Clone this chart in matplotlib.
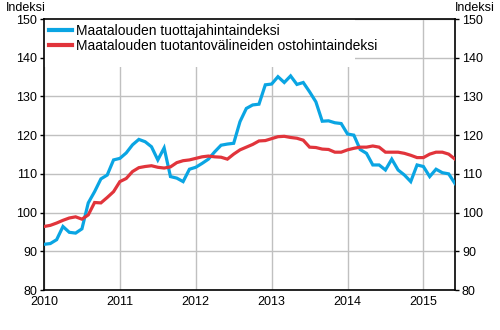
import numpy as np
import matplotlib
matplotlib.use("Agg")
import matplotlib.pyplot as plt
from matplotlib.patches import Rectangle

plt.rcParams["font.family"] = ["Liberation Sans", "DejaVu Sans"]

# ── Data (monthly, Jan 2010 – Jun 2015) ────────────────────────────
start_year = 2010
producer_index = [
    91.8, 92.0, 93.0, 96.4, 94.9, 94.7, 95.8, 102.5, 105.4, 108.7, 109.7, 113.6,
    114.0, 115.4, 117.5, 118.9, 118.3, 117.0, 113.6, 116.7, 109.3, 108.9, 108.0, 111.2,
    111.7, 112.7, 113.8, 115.7, 117.4, 117.7, 117.9, 123.5, 126.9, 127.8, 128.0, 133.0,
    133.2, 135.1, 133.6, 135.3, 133.1, 133.6, 131.2, 128.6, 123.6, 123.7, 123.2, 123.0,
    120.3, 120.0, 116.3, 115.3, 112.3, 112.3, 111.0, 113.8, 111.0, 109.7, 108.0, 112.3,
    111.9, 109.3, 111.2, 110.3, 110.0, 107.5,
]
input_index = [
    96.4, 96.7, 97.3, 98.0, 98.6, 98.9, 98.3, 99.4, 102.6, 102.5, 103.9, 105.4,
    108.0, 108.8, 110.6, 111.6, 111.9, 112.1, 111.7, 111.5, 111.8, 112.9, 113.4, 113.6,
    114.0, 114.4, 114.6, 114.4, 114.3, 113.8, 115.1, 116.2, 116.9, 117.6, 118.5, 118.6,
    119.1, 119.6, 119.7, 119.4, 119.2, 118.7, 116.9, 116.8, 116.4, 116.3, 115.6, 115.6,
    116.2, 116.6, 116.9, 116.9, 117.2, 116.9, 115.6, 115.6, 115.6, 115.3, 114.8, 114.2,
    114.2, 115.1, 115.6, 115.6, 115.1, 113.8,
]
series_labels = [
    "Maatalouden tuottajahintaindeksi",
    "Maatalouden tuotantovälineiden ostohintaindeksi",
]
year_ticks = [2010, 2011, 2012, 2013, 2014, 2015]
y_ticks = [80, 90, 100, 110, 120, 130, 140, 150]

BLUE = "#0AA5E3"
RED = "#E1343B"
GRID = "#C0C0C0"

months = start_year + np.arange(len(producer_index)) / 12.0

fig = plt.figure(figsize=(5.0, 3.3), dpi=100)
ax = fig.add_axes([0.088, 0.1212, 0.822, 0.8212])

ax.plot(months, producer_index, color=BLUE, lw=2.3, label=series_labels[0],
        solid_joinstyle="miter", zorder=3)
ax.plot(months, input_index, color=RED, lw=2.3, label=series_labels[1],
        solid_joinstyle="miter", zorder=3)

ax.set_xlim(months[0], months[-1])
ax.set_ylim(80, 150)
ax.set_xticks(year_ticks)
ax.set_xticklabels([str(y) for y in year_ticks])
ax.set_yticks(y_ticks)

ax.grid(True, color=GRID, lw=1.0)
ax.set_axisbelow(True)

# white block behind the legend hides the grid there
ax.add_patch(Rectangle((0, 0.823), 0.757, 0.177, transform=ax.transAxes,
                       facecolor="white", edgecolor="none", zorder=1))

for side in ["top", "left", "right", "bottom"]:
    ax.spines[side].set_linewidth(1.2)
    ax.spines[side].set_color("black")

ax.tick_params(axis="both", labelsize=9, colors="black", width=1, length=3)
ax.tick_params(axis="x", length=0, pad=4.5)
ax.tick_params(axis="y", right=True, labelright=True, pad=2)

leg = ax.legend(loc="upper left", fontsize=10, frameon=False,
                handlelength=1.7, handletextpad=0.25, borderpad=0.3,
                labelspacing=0.08, borderaxespad=0.05)
for line in leg.get_lines():
    line.set_linewidth(3)
leg.set_zorder(4)

fig.text(0.012, 0.975, "Indeksi", fontsize=9, ha="left", va="center")
fig.text(0.99, 0.975, "Indeksi", fontsize=9, ha="right", va="center")

fig.savefig("out.png", dpi=100)
